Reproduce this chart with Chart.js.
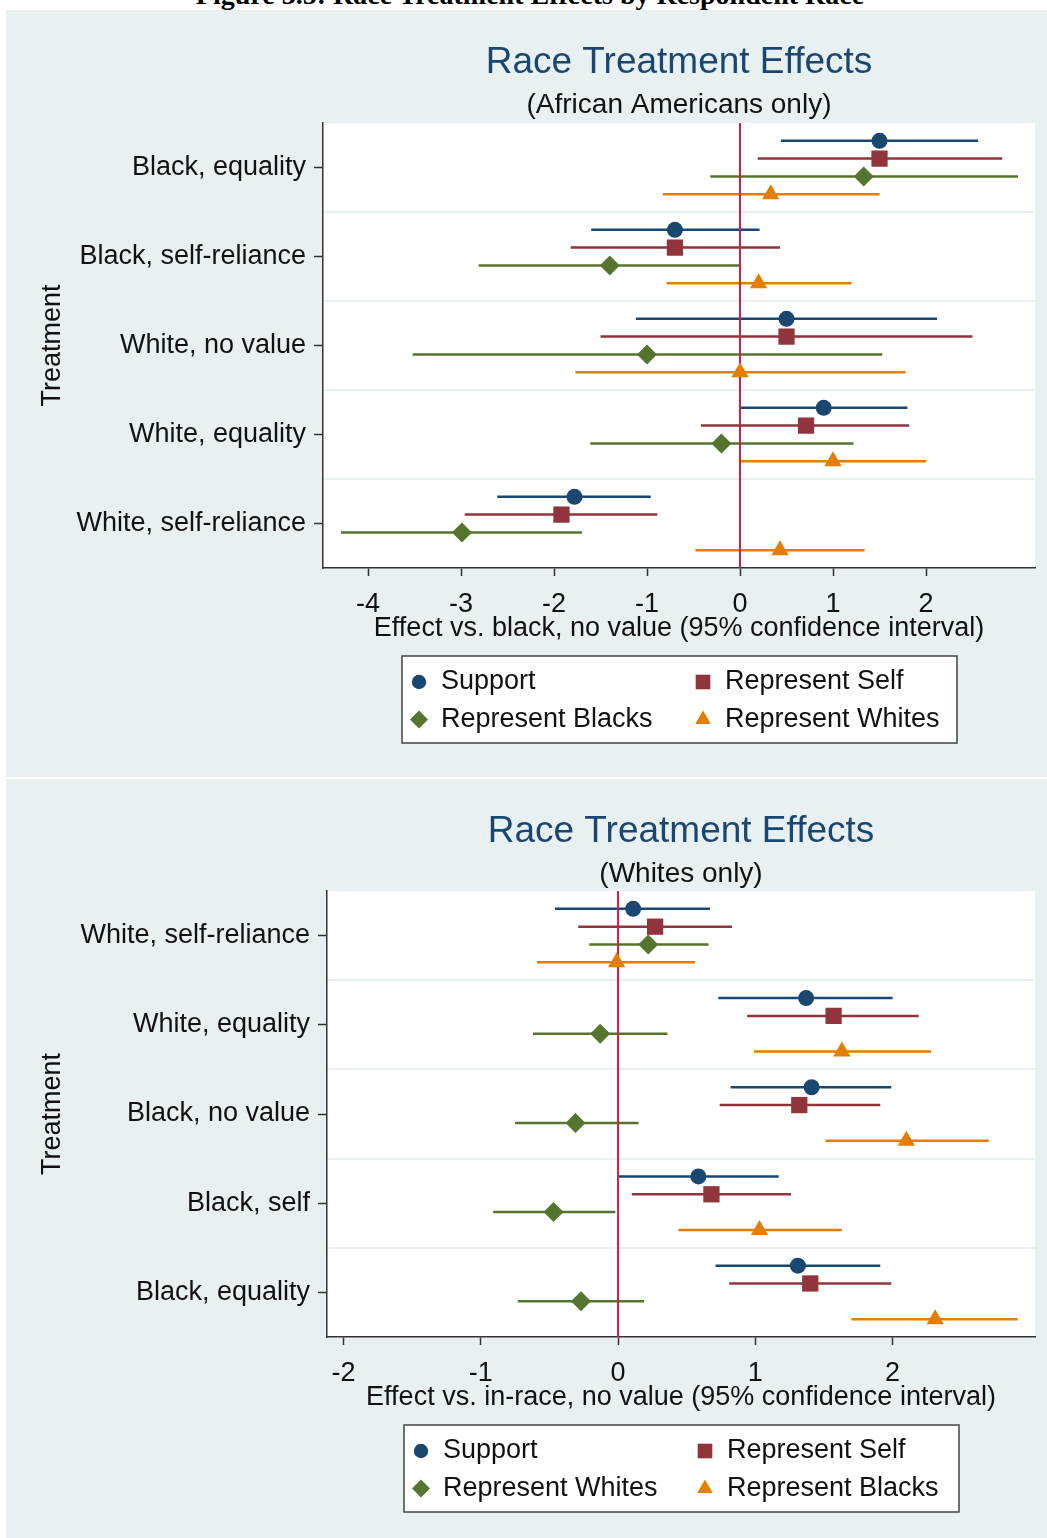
<!DOCTYPE html>
<html>
<head>
<meta charset="utf-8">
<title>Race Treatment Effects by Respondent Race</title>
<script src="https://cdn.jsdelivr.net/npm/chart.js@4.4.1/dist/chart.umd.min.js"></script>
<style>
  html, body { margin: 0; padding: 0; background: #fff; }
  body { width: 1047px; height: 1538px; position: relative; overflow: hidden; }
  .caption {
    position: absolute; left: 0; width: 1060px; top: -19px; text-align: center;
    font: bold 28px/28px 'Liberation Serif', 'Times New Roman', serif; color: #000;
  }
  .panel { position: absolute; left: 6px; width: 1041px; background: #E8F0F2; }
  #panelTop { top: 10px; height: 767px; }
  #panelBottom { top: 779px; height: 759px; }
  canvas { display: block; }
</style>
</head>
<body>
<div class="caption">Figure 3.5: Race Treatment Effects by Respondent Race</div>
<div class="panel" id="panelTop"><canvas id="chartTop" width="1041" height="767"></canvas></div>
<div class="panel" id="panelBottom"><canvas id="chartBottom" width="1041" height="759"></canvas></div>
<script>
// --- top panel: African Americans only ---
const topCategories = ['Black, equality', 'Black, self-reliance', 'White, no value', 'White, equality', 'White, self-reliance'];
const topSeriesNames = ['Support', 'Represent Self', 'Represent Blacks', 'Represent Whites'];
const topSupport = [1.50, -0.70, 0.50, 0.90, -1.78];
const topSupportCI = [[0.44, 2.56], [-1.60, 0.21], [-1.12, 2.12], [0.00, 1.80], [-2.61, -0.96]];
const topSelf = [1.50, -0.70, 0.50, 0.71, -1.92];
const topSelfCI = [[0.19, 2.82], [-1.82, 0.43], [-1.50, 2.50], [-0.42, 1.82], [-2.96, -0.89]];
const topBlacks = [1.33, -1.40, -1.00, -0.20, -2.99];
const topBlacksCI = [[-0.32, 2.99], [-2.81, 0.00], [-3.52, 1.53], [-1.61, 1.22], [-4.29, -1.70]];
const topWhites = [0.33, 0.20, 0.00, 1.00, 0.43];
const topWhitesCI = [[-0.83, 1.50], [-0.79, 1.20], [-1.77, 1.78], [0.00, 2.00], [-0.48, 1.34]];
const topXTicks = [-4, -3, -2, -1, 0, 1, 2];

// --- bottom panel: Whites only ---
const bottomCategories = ['White, self-reliance', 'White, equality', 'Black, no value', 'Black, self', 'Black, equality'];
const bottomSeriesNames = ['Support', 'Represent Self', 'Represent Whites', 'Represent Blacks'];
const bottomSupport = [0.11, 1.37, 1.41, 0.585, 1.31];
const bottomSupportCI = [[-0.46, 0.67], [0.73, 2.00], [0.82, 1.99], [0.00, 1.17], [0.71, 1.91]];
const bottomSelf = [0.27, 1.57, 1.32, 0.68, 1.40];
const bottomSelfCI = [[-0.29, 0.83], [0.94, 2.19], [0.74, 1.91], [0.10, 1.26], [0.81, 1.99]];
const bottomWhites = [0.22, -0.13, -0.31, -0.47, -0.27];
const bottomWhitesCI = [[-0.21, 0.66], [-0.62, 0.36], [-0.75, 0.15], [-0.91, -0.02], [-0.73, 0.19]];
const bottomBlacks = [-0.01, 1.63, 2.10, 1.03, 2.31];
const bottomBlacksCI = [[-0.59, 0.56], [0.99, 2.28], [1.51, 2.70], [0.44, 1.63], [1.70, 2.91]];
const bottomXTicks = [-2, -1, 0, 1, 2];

// look (stata s2color-ish)
const seriesColors = ['#1A476F', '#90353B', '#55752F', '#E37E00'];
const seriesShapes = ['circle', 'rect', 'rectRot', 'triangle'];
const seriesRadius = [8, 11.5, 10, 10];
const seriesOffsets = [-0.3, -0.1, 0.1, 0.3];
const FONT = "'Liberation Sans', Arial, sans-serif";
const TEXT = '#111';
const AXIS = '#333';

Chart.defaults.font.family = FONT;
Chart.defaults.color = TEXT;
Chart.defaults.animation = false;

const plotBackground = {
    id: 'plotBackground',
    beforeDraw(chart) {
        const {ctx, chartArea: a} = chart;
        ctx.save();
        ctx.fillStyle = '#fff';
        ctx.fillRect(a.left, a.top, a.right - a.left, a.bottom - a.top);
        ctx.restore();
    }
};

// stata-like boxed legend, 2 columns, under the x axis title
const boxLegend = {
    id: 'boxLegend',
    afterDraw(chart) {
        const {ctx, chartArea: a} = chart;
        const items = chart.data.datasets.filter(d => d.isMarker);
        const w = 555, h = 87;
        const left = Math.round((a.left + a.right) / 2 - w / 2);
        const top = Math.round(a.bottom + 88);
        ctx.save();
        ctx.fillStyle = '#fff';
        ctx.fillRect(left, top, w, h);
        ctx.strokeStyle = '#444';
        ctx.lineWidth = 1.5;
        ctx.strokeRect(left, top, w, h);
        ctx.font = '27px ' + FONT;
        ctx.textBaseline = 'middle';
        items.forEach((d, i) => {
            const col = i % 2, row = Math.floor(i / 2);
            const y = top + 26 + row * 37.6;
            ctx.fillStyle = d.backgroundColor;
            Chart.helpers.drawPoint(ctx, {
                pointStyle: d.pointStyle, radius: d.pointRadius * 0.9, rotation: 0, borderWidth: 0
            }, left + 17 + col * 284, y);
            ctx.fillStyle = TEXT;
            ctx.fillText(d.label, left + 39 + col * 284, y);
        });
        ctx.restore();
    }
};

function buildPanel(canvasId, p) {
    const datasets = [];
    p.est.forEach((values, s) => {
        const segs = [];
        p.ci[s].forEach((pair, i) => {
            const y = i + 1 + seriesOffsets[s];
            segs.push({x: pair[0], y: y}, {x: pair[1], y: y}, {x: null, y: null});
        });
        datasets.push({
            label: p.names[s] + ' 95% CI',
            data: segs,
            showLine: true,
            spanGaps: false,
            borderColor: seriesColors[s],
            borderWidth: 2.5,
            pointRadius: 0,
            pointHoverRadius: 0,
            order: 2
        });
        datasets.push({
            label: p.names[s],
            data: values.map((v, i) => ({x: v, y: i + 1 + seriesOffsets[s]})),
            isMarker: true,
            pointStyle: seriesShapes[s],
            pointRadius: seriesRadius[s],
            pointHoverRadius: seriesRadius[s],
            backgroundColor: seriesColors[s],
            borderColor: seriesColors[s],
            borderWidth: 0,
            order: 0
        });
    });
    // reference line at zero, across the whole y range
    datasets.push({
        label: 'zero',
        data: [{x: 0, y: 0.5}, {x: 0, y: p.categories.length + 0.5}],
        showLine: true,
        borderColor: '#D81B45',
        borderWidth: 2,
        pointRadius: 0,
        order: 1
    });

    const ySpan = {min: 0.5, max: p.categories.length + 0.5, reverse: true};

    new Chart(document.getElementById(canvasId), {
        type: 'scatter',
        data: {datasets: datasets},
        options: {
            responsive: false,
            layout: {padding: {top: 0, left: 0, right: 12, bottom: p.padBottom}},
            events: [],
            plugins: {
                legend: {display: false},
                tooltip: {enabled: false},
                title: {
                    display: true, text: p.title, fullSize: false, color: '#1A476F',
                    font: {size: 37, weight: 'normal'}, padding: {top: 31, bottom: 0}
                },
                subtitle: {
                    display: true, text: p.subtitle, fullSize: false, color: TEXT,
                    font: {size: 28, weight: 'normal'}, padding: {top: 3, bottom: p.subPad}
                }
            },
            scales: {
                x: {
                    type: 'linear', position: 'bottom', min: p.xMin, max: p.xMax,
                    afterBuildTicks: axis => { axis.ticks = p.xTicks.map(v => ({value: v})); },
                    afterFit: axis => { axis.height = 92; },
                    grid: {drawOnChartArea: false, tickLength: 8, tickColor: AXIS, tickWidth: 1.5},
                    border: {display: true, color: AXIS, width: 1.5},
                    ticks: {font: {size: 27}, color: TEXT, padding: 12},
                    title: {display: true, text: p.xTitle, font: {size: 27}, color: TEXT, padding: {top: 0, bottom: 15}}
                },
                y: {
                    type: 'linear', position: 'left', ...ySpan,
                    afterBuildTicks: axis => { axis.ticks = p.categories.map((c, i) => ({value: i + 1})); },
                    afterFit: axis => { axis.width = p.yWidth; },
                    grid: {drawOnChartArea: false, tickLength: 9, tickColor: AXIS, tickWidth: 1.5},
                    border: {display: true, color: AXIS, width: 1.5},
                    ticks: {font: {size: 27}, color: TEXT, padding: 8, callback: v => p.categories[v - 1]},
                    title: {display: true, text: 'Treatment', font: {size: 27}, color: TEXT, padding: {top: 30, bottom: 0}}
                },
                // light separators between treatment groups
                ySep: {
                    type: 'linear', position: 'right', ...ySpan,
                    afterBuildTicks: axis => { axis.ticks = p.categories.slice(1).map((c, i) => ({value: i + 1.5})); },
                    afterFit: axis => { axis.width = 0; },
                    grid: {color: '#E8F0F2', lineWidth: 2, drawTicks: false},
                    border: {display: false},
                    ticks: {display: false}
                }
            }
        },
        plugins: [plotBackground, boxLegend]
    });
}

buildPanel('chartTop', {
    categories: topCategories,
    names: topSeriesNames,
    est: [topSupport, topSelf, topBlacks, topWhites],
    ci: [topSupportCI, topSelfCI, topBlacksCI, topWhitesCI],
    xTicks: topXTicks, xMin: -4.484, xMax: 3.172,
    title: 'Race Treatment Effects',
    subtitle: '(African Americans only)',
    xTitle: 'Effect vs. black, no value (95% confidence interval)',
    yWidth: 317, padBottom: 117, subPad: 1
});

buildPanel('chartBottom', {
    categories: bottomCategories,
    names: bottomSeriesNames,
    est: [bottomSupport, bottomSelf, bottomWhites, bottomBlacks],
    ci: [bottomSupportCI, bottomSelfCI, bottomWhitesCI, bottomBlacksCI],
    xTicks: bottomXTicks, xMin: -2.12, xMax: 3.037,
    title: 'Race Treatment Effects',
    subtitle: '(Whites only)',
    xTitle: 'Effect vs. in-race, no value (95% confidence interval)',
    yWidth: 321, padBottom: 109, subPad: 0
});
</script>
</body>
</html>
